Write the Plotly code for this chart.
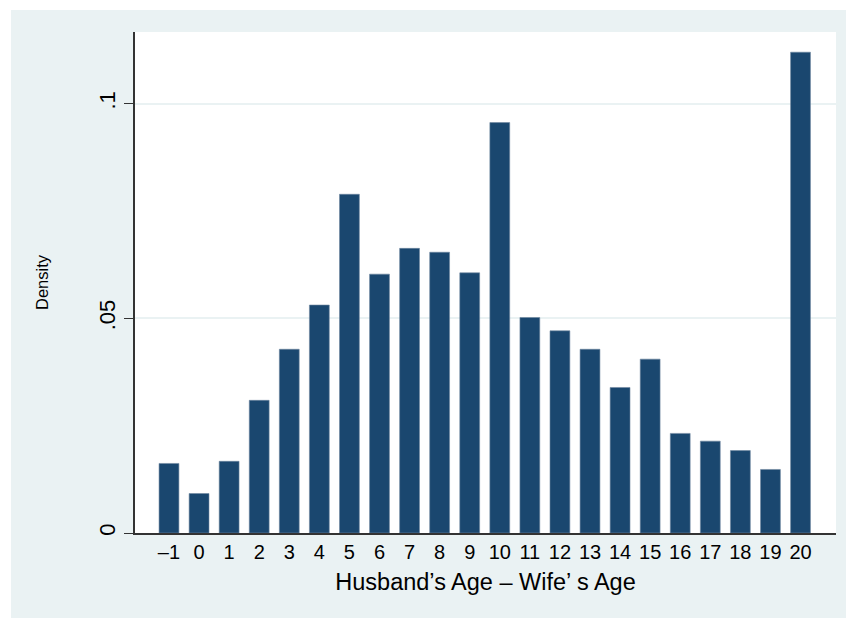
import plotly.graph_objects as go

categories = list(range(-1, 21))
density = [0.0162, 0.0092, 0.0167, 0.0309, 0.0428, 0.0531, 0.0789, 0.0603,
           0.0663, 0.0654, 0.0606, 0.0956, 0.0502, 0.0471, 0.0428, 0.0339,
           0.0405, 0.0232, 0.0214, 0.0192, 0.0148, 0.1120]
tick_labels = [("–" + str(-c)) if c < 0 else str(c) for c in categories]
y_ticks = [0, 0.05, 0.1]
y_tick_labels = ["0", ".05", ".1"]

BG = "#EAF2F3"
NAVY = "#1A476F"
FONT = "Liberation Sans, Arial, sans-serif"

fig = go.Figure()
fig.add_trace(go.Bar(
    x=categories, y=density, width=0.66,
    marker=dict(color=NAVY, line=dict(color="#6f87a0", width=0.6)),
    hoverinfo="x+y",
))

W, H = 846, 618
L, R, T, B = 135, 10, 32, 85
pw, ph = W - L - R, H - T - B

def px(xp):
    return (xp - L) / pw

def py(yp):
    return (H - B - yp) / ph

shapes = [
    dict(type="rect", xref="paper", yref="paper", x0=px(-5), x1=px(W + 5),
         y0=py(10), y1=py(-5), fillcolor="white", line=dict(width=0), layer="below"),
    dict(type="rect", xref="paper", yref="paper", x0=px(-5), x1=px(11),
         y0=py(H + 5), y1=py(-5), fillcolor="white", line=dict(width=0), layer="below"),
]

fig.update_layout(
    width=W, height=H,
    margin=dict(l=L, r=R, t=T, b=B, pad=0),
    paper_bgcolor=BG, plot_bgcolor="white",
    font=dict(family=FONT, color="#000000", size=20),
    showlegend=False,
    shapes=shapes,
    xaxis=dict(
        range=[-2.13, 21.18], tickmode="array", tickvals=categories, ticktext=tick_labels,
        showgrid=False, zeroline=False, showline=True, linecolor="#333333", linewidth=1.5,
        ticks="", tickfont=dict(size=20),
        title=dict(text="Husband’s Age – Wife’ s Age", font=dict(size=23.5), standoff=12),
    ),
    yaxis=dict(
        range=[0, 0.1167], tickmode="array", tickvals=y_ticks, ticktext=y_tick_labels,
        tickangle=-90, ticks="outside", ticklen=9, tickcolor="#333333", tickwidth=1,
        showgrid=True, gridcolor=BG, gridwidth=1.5, zeroline=False,
        showline=True, linecolor="#333333", linewidth=1.5, tickfont=dict(size=22),
        title=dict(text="Density", font=dict(size=16.5), standoff=43),
    ),
)

fig.write_html("out.html")
